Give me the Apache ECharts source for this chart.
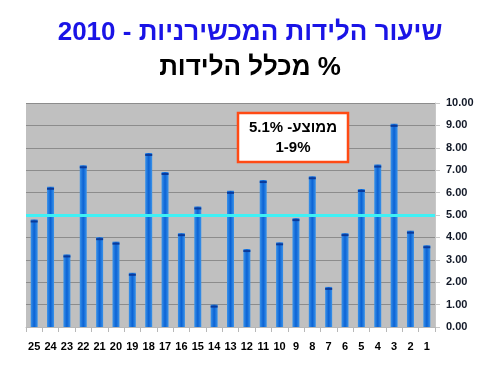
<!DOCTYPE html>
<html>
<head>
<meta charset="utf-8">
<script src="https://cdn.jsdelivr.net/npm/echarts@6/dist/echarts.min.js"></script>
<style>html,body{margin:0;padding:0;background:#fff}#c{width:500px;height:375px}</style>
</head>
<body>
<div id="c"></div>
<script>
const categories = ['1','2','3','4','5','6','7','8','9','10','11','12','13','14','15','16','17','18','19','20','21','22','23','24','25'];
const rates = [3.65,4.30,9.07,7.25,6.16,4.19,1.79,6.73,4.86,3.78,6.56,3.48,6.08,1.00,5.38,4.19,6.92,7.77,2.42,3.81,4.01,7.22,3.24,6.26,4.80];
const averageLine = 5.0;
const yTicks = [0,1,2,3,4,5,6,7,8,9,10];
const titleLine1 = 'שיעור הלידות המכשירניות - 2010';
const titleLine2 = 'מכלל הלידות %';
const noteLine1 = 'ממוצע- 5.1%';
const noteLine2 = '1-9%';

const chart = echarts.init(document.getElementById('c'), null, {renderer:'canvas'});
const font = '"Liberation Sans", Arial, sans-serif';
chart.setOption({
  animation:false,
  title:[
    {text:titleLine1, left:'center', top:15, textStyle:{fontFamily:font, fontSize:26, fontWeight:'bold', color:'#1a14e6'}},
    {text:titleLine2, left:'center', top:50, textStyle:{fontFamily:font, fontSize:26, fontWeight:'bold', color:'#000'}}
  ],
  grid:{left:26, right:65, top:103, bottom:48, show:true, backgroundColor:'#c0c0c0', borderWidth:0},
  xAxis:{
    type:'category', data:categories, inverse:true,
    axisLine:{show:true, lineStyle:{color:'#b8b8b8'}},
    axisTick:{show:true, alignWithLabel:false, length:5, lineStyle:{color:'#b8b8b8'}},
    axisLabel:{fontFamily:font, fontSize:11, fontWeight:'bold', color:'#000', margin:14, interval:0}
  },
  yAxis:{
    type:'value', position:'right', min:0, max:10, interval:1,
    axisLine:{show:true, lineStyle:{color:'#c8c8c8'}},
    axisTick:{show:true, length:5, lineStyle:{color:'#c8c8c8'}},
    splitLine:{show:true, lineStyle:{color:'#8c8c8c', width:1}},
    axisLabel:{fontFamily:font, fontSize:11, fontWeight:'bold', color:'#111827', margin:11,
      formatter:v => yTicks.includes(v) ? v.toFixed(2) : ''}
  },
  series:[
    {
      type:'bar', data:rates, barWidth:7,
      itemStyle:{color:new echarts.graphic.LinearGradient(0,0,1,0,[
        {offset:0,color:'#3a93ea'},{offset:0.5,color:'#0b62d4'},{offset:1,color:'#3a93ea'}])},
      markLine:{silent:true, symbol:'none', label:{show:false},
        lineStyle:{color:'#3ff0f5', width:3, type:'solid'},
        data:[{yAxis:averageLine}]},
      z:2
    },
    {
      type:'pictorialBar', data:rates, symbol:'rect', symbolSize:[7,2],
      symbolPosition:'end', symbolOffset:[0,'50%'],
      itemStyle:{color:'#0a3a9a'}, z:3
    }
  ],
  graphic:[
    {type:'rect', x:238, y:113, shape:{width:110, height:49},
      style:{fill:'#fff', stroke:'#ff4a14', lineWidth:2.5}, z:10},
    {type:'text', x:293, y:118, z:11,
      style:{text:noteLine1 + '\n' + noteLine2, font:'bold 15px '+font, fill:'#000',
        align:'center', verticalAlign:'top', lineHeight:20}}
  ]
});
</script>
</body>
</html>
